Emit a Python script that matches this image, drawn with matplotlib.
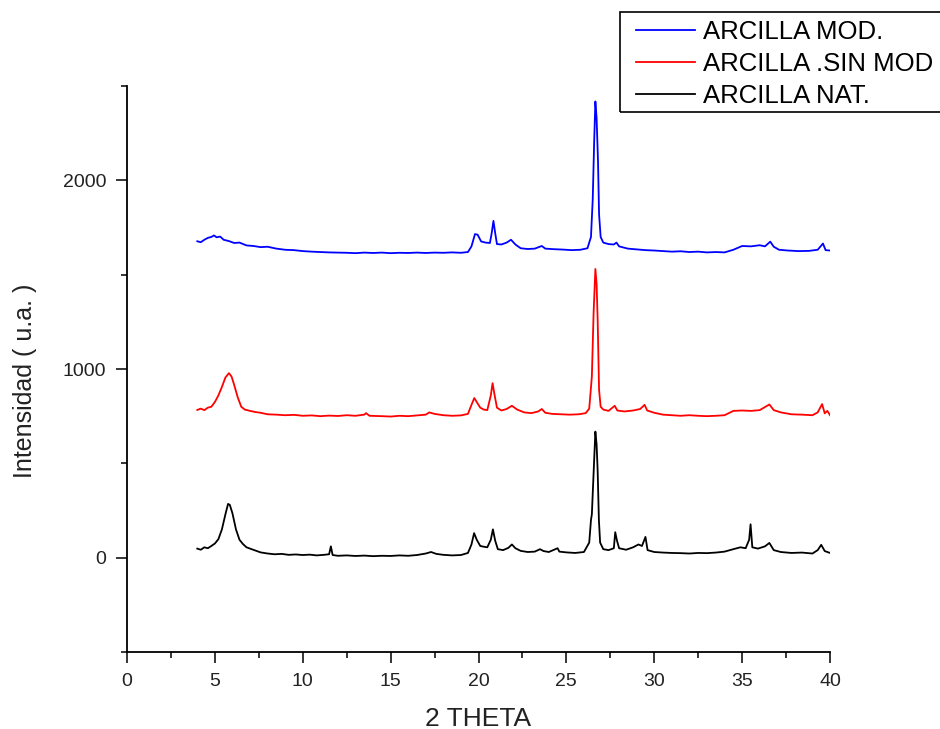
import matplotlib
matplotlib.use('Agg')
import matplotlib.pyplot as plt
from matplotlib.patches import Rectangle
from matplotlib.ticker import MultipleLocator

plt.rcParams['font.family'] = ['Liberation Sans', 'DejaVu Sans']

# ARCILLA NAT. (2theta, counts)
nat_x = [4.0, 4.2, 4.4, 4.6, 4.8, 5.0, 5.2, 5.4, 5.6, 5.75, 5.85, 6.0, 6.2, 6.4, 6.6, 6.8,
         7.0, 7.3, 7.6, 8.0, 8.4, 8.8, 9.2, 9.6, 10.0, 10.4, 10.8, 11.2, 11.5, 11.6, 11.7,
         12.0, 12.5, 13.0, 13.5, 14.0, 14.5, 15.0, 15.5, 16.0, 16.5, 17.0, 17.3, 17.6, 18.0,
         18.5, 19.0, 19.4, 19.6, 19.75, 19.9, 20.1, 20.3, 20.5, 20.7, 20.82, 20.95, 21.1,
         21.4, 21.7, 21.9, 22.1, 22.4, 22.8, 23.2, 23.5, 23.7, 24.0, 24.3, 24.5, 24.6, 25.0,
         25.5, 26.0, 26.3, 26.4, 26.45, 26.55, 26.65, 26.72, 26.78, 26.85, 26.92, 27.1, 27.4,
         27.7, 27.78, 27.88, 28.0, 28.4, 28.8, 29.1, 29.3, 29.5, 29.62, 30.0, 30.5, 31.0,
         31.5, 32.0, 32.5, 33.0, 33.5, 34.0, 34.5, 34.9, 35.2, 35.4, 35.48, 35.58, 35.9,
         36.3, 36.55, 36.8, 37.2, 37.8, 38.4, 39.0, 39.3, 39.5, 39.7, 40.0]
nat_y = [48, 42, 55, 50, 62, 75, 98, 150, 230, 285, 280, 235, 150, 95, 72, 55,
         48, 38, 28, 22, 18, 20, 15, 17, 14, 16, 12, 15, 18, 60, 14,
         10, 12, 9, 11, 8, 10, 9, 12, 10, 14, 22, 30, 20, 15,
         12, 14, 25, 70, 130, 95, 62, 58, 55, 95, 150, 90, 45,
         40, 52, 70, 50, 36, 30, 32, 45, 35, 30, 42, 50, 32, 28,
         25, 30, 80, 200, 230, 450, 668, 600, 460, 200, 80, 45, 40,
         50, 135, 90, 50, 42, 55, 70, 62, 110, 40, 30, 27, 25,
         24, 22, 25, 24, 27, 32, 45, 55, 50, 95, 177, 55, 48,
         60, 78, 40, 30, 25, 27, 22, 40, 68, 35, 25]

# ARCILLA .SIN MOD
sin_x = [4.0, 4.2, 4.4, 4.6, 4.8, 5.0, 5.2, 5.4, 5.6, 5.8, 5.95, 6.1, 6.3, 6.5, 6.7, 7.0,
         7.3, 7.6, 8.0, 8.5, 9.0, 9.5, 10.0, 10.5, 11.0, 11.5, 12.0, 12.5, 13.0, 13.5, 13.6,
         13.8, 14.5, 15.0, 15.5, 16.0, 16.5, 17.0, 17.2, 17.5, 18.0, 18.5, 19.0, 19.4, 19.6,
         19.76, 19.9, 20.1, 20.3, 20.5, 20.7, 20.8, 20.9, 21.05, 21.3, 21.6, 21.9, 22.2,
         22.6, 23.0, 23.4, 23.6, 23.8, 24.2, 24.7, 25.2, 25.7, 26.1, 26.3, 26.45, 26.55,
         26.65, 26.72, 26.78, 26.86, 26.95, 27.1, 27.4, 27.75, 27.9, 28.3, 28.8, 29.2, 29.45,
         29.6, 30.0, 30.5, 31.0, 31.5, 32.0, 32.5, 33.0, 33.5, 34.0, 34.5, 35.0, 35.5, 36.0,
         36.55, 36.8, 37.2, 37.8, 38.4, 39.0, 39.3, 39.55, 39.7, 39.85, 40.0]
sin_y = [783, 790, 782, 795, 800, 825, 860, 905, 955, 978, 960, 915, 850, 800, 785, 778,
         772, 768, 760, 758, 755, 757, 752, 754, 750, 753, 751, 755, 752, 758, 766,
         752, 750, 748, 752, 750, 754, 758, 770, 762, 755, 752, 754, 762, 810,
         846, 825, 795, 785, 782, 860, 925, 870, 795, 780, 788, 805, 785,
         770, 766, 775, 788, 768, 762, 760, 758, 760, 766, 790, 960, 1300,
         1530, 1450, 1260, 890, 800, 785, 778, 805, 780, 775, 780, 788, 810,
         780, 768, 758, 755, 752, 755, 752, 750, 752, 755, 778, 780, 778, 782,
         812, 782, 770, 760, 758, 755, 770, 814, 765, 778, 755]

# ARCILLA MOD.
mod_x = [4.0, 4.2, 4.4, 4.6, 4.8, 4.95, 5.1, 5.3, 5.5, 5.8, 6.1, 6.4, 6.8, 7.2, 7.6, 8.0,
         8.5, 9.0, 9.5, 10.0, 10.5, 11.0, 11.5, 12.0, 12.5, 13.0, 13.5, 14.0, 14.5, 15.0,
         15.5, 16.0, 16.5, 17.0, 17.5, 18.0, 18.5, 19.0, 19.4, 19.6, 19.8, 19.95, 20.15,
         20.4, 20.65, 20.75, 20.85, 20.95, 21.05, 21.3, 21.6, 21.85, 22.1, 22.4, 22.8, 23.2,
         23.6, 23.8, 24.3, 24.8, 25.3, 25.8, 26.2, 26.4, 26.5, 26.58, 26.65, 26.72, 26.8,
         26.86, 26.95, 27.1, 27.4, 27.7, 27.85, 28.0, 28.5, 29.0, 29.5, 30.0, 30.5, 31.0,
         31.5, 32.0, 32.5, 33.0, 33.5, 34.0, 34.5, 35.0, 35.5, 36.0, 36.3, 36.6, 36.8, 37.1,
         37.6, 38.2, 38.8, 39.3, 39.6, 39.75, 40.0]
mod_y = [1677, 1672, 1685, 1695, 1700, 1708, 1698, 1702, 1685, 1678, 1668, 1670, 1655, 1652, 1646, 1648,
         1638, 1632, 1630, 1625, 1622, 1620, 1618, 1617, 1616, 1614, 1617, 1615, 1617, 1614,
         1616, 1615, 1617, 1615, 1617, 1616, 1618, 1616, 1620, 1650, 1715, 1712, 1676,
         1670, 1668, 1720, 1785, 1720, 1662, 1660, 1670, 1685, 1660, 1640, 1636, 1638,
         1652, 1638, 1635, 1633, 1630, 1632, 1640, 1700, 1900, 2200, 2418, 2330, 2100,
         1820, 1700, 1670, 1662, 1660, 1670, 1650, 1638, 1634, 1630, 1628, 1625, 1622,
         1624, 1620, 1622, 1618, 1620, 1618, 1632, 1652, 1650, 1656, 1650, 1675, 1648, 1632,
         1628, 1625, 1626, 1632, 1665, 1630, 1628]

W, H = 940, 729
fig = plt.figure(figsize=(W / 100, H / 100), dpi=100)
ax = fig.add_axes([127 / W, 1 - 652 / H, 703 / W, 566 / H])

ax.plot(mod_x, mod_y, color='#0000ff', lw=1.3, label='ARCILLA MOD.')
ax.plot(sin_x, sin_y, color='#ff0000', lw=1.3, label='ARCILLA .SIN MOD')
ax.plot(nat_x, nat_y, color='black', lw=1.3, label='ARCILLA NAT.')

ax.set_xlim(0, 40)
ax.set_ylim(-500, 2500)
ax.xaxis.set_major_locator(MultipleLocator(5))
ax.xaxis.set_minor_locator(MultipleLocator(2.5))
ax.yaxis.set_major_locator(MultipleLocator(1000))
ax.yaxis.set_minor_locator(MultipleLocator(500))

for side in ['top', 'right']:
    ax.spines[side].set_visible(False)
for side in ['left', 'bottom']:
    ax.spines[side].set_linewidth(1.3)

ax.tick_params(which='major', length=8, width=1.1, labelsize=14, pad=7, direction='out')
ax.tick_params(which='minor', length=4, width=1.1, direction='out')
for lab in ax.get_xticklabels() + ax.get_yticklabels():
    lab.set_color('#222222')

ax.set_xlabel('2 THETA', fontsize=19, labelpad=12, color='#222222')
ax.set_ylabel('Intensidad ( u.a. )', fontsize=18, color='#222222')
ax.yaxis.set_label_coords(-0.128, 0.479)

# legend box runs off the right edge of the figure
fig.patches.append(Rectangle((620 / W, 1 - 112 / H), 340 / W, 100 / H,
                             transform=fig.transFigure, fill=False,
                             edgecolor='black', linewidth=1.2, clip_on=False))
leg = ax.legend(loc='upper left', bbox_to_anchor=(636 / W, 1 - 20 / H),
                bbox_transform=fig.transFigure, fontsize=18.5, frameon=False,
                handlelength=2.3, handletextpad=0.3, labelspacing=0.32,
                borderpad=0, borderaxespad=0)
for line in leg.get_lines():
    line.set_linewidth(1.3)

fig.savefig('out.png', dpi=100)
